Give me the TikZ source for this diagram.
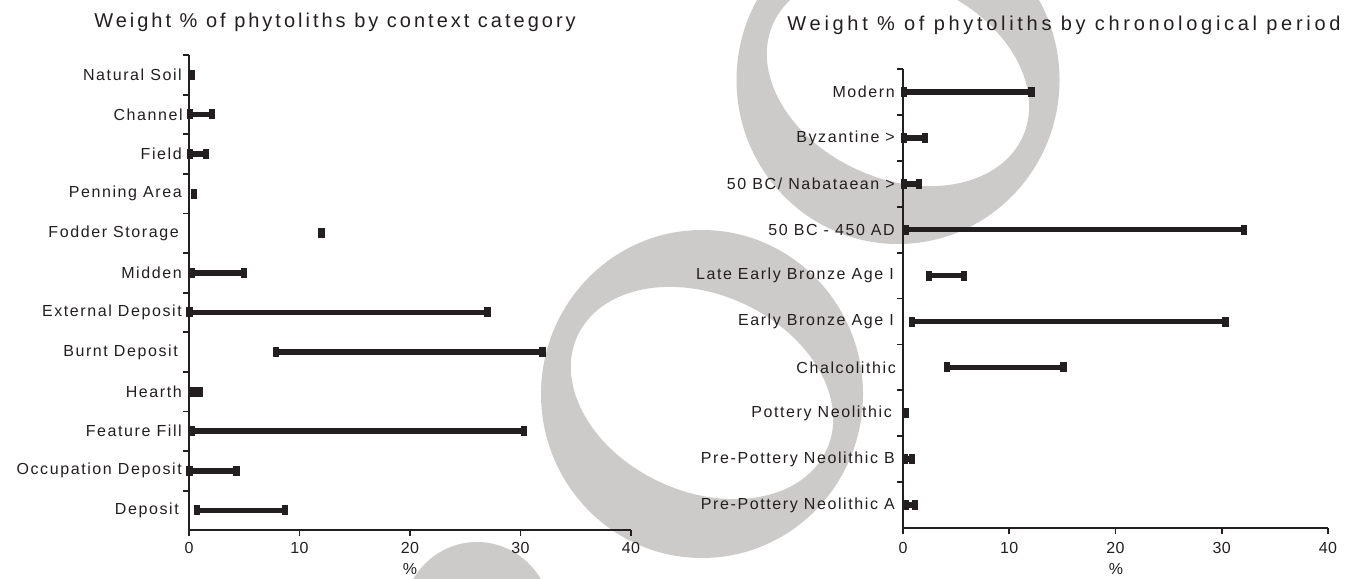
\documentclass[tikz,border=0pt]{standalone}
\usepackage{fontspec}
\setmainfont{Liberation Sans}
\newfontfamily\labfont[LetterSpace=10]{Liberation Sans}
\newfontfamily\ttlfontL[LetterSpace=15]{Liberation Sans}
\newfontfamily\ttlfontR[LetterSpace=18.5]{Liberation Sans}
\newfontfamily\numfont[LetterSpace=2]{Liberation Sans}
\definecolor{wm}{RGB}{205,202,202}
\definecolor{ink}{RGB}{35,31,32}
\tikzset{
  lbl/.style={font=\labfont\fontsize{16}{18}\selectfont, text=ink, inner sep=0pt, anchor=east},
  ttlL/.style={font=\ttlfontL\fontsize{20}{22}\selectfont, text=ink, inner sep=0pt},
  ttlR/.style={font=\ttlfontR\fontsize{20}{22}\selectfont, text=ink, inner sep=0pt},
  numstyle/.style={font=\numfont\fontsize{16}{18}\selectfont, text=ink, inner sep=0pt},
  axisline/.style={ink, line width=2.2},
  tickline/.style={ink, line width=1.8},
  rngline/.style={ink, line width=5.5},
}
% left chart: x = 189 + 11.05 v ; rows y = 74.8 + 39.6 i
\newcommand\Lmark[2]{\fill[ink] ({189+11.05*#2-3.2},{74.8+39.6*#1-5}) rectangle ++(6.4,10);}
\newcommand\Lrange[3]{\draw[rngline] ({189+11.05*#2},{74.8+39.6*#1}) -- ({189+11.05*#3},{74.8+39.6*#1});\Lmark{#1}{#2}\Lmark{#1}{#3}}
% right chart: x = 903 + 10.625 v ; rows y = 92 + 45.9 i
\newcommand\Rmark[2]{\fill[ink] ({903+10.625*#2-3.2},{92+45.9*#1-5}) rectangle ++(6.4,10);}
\newcommand\Rrange[3]{\draw[rngline] ({903+10.625*#2},{92+45.9*#1}) -- ({903+10.625*#3},{92+45.9*#1});\Rmark{#1}{#2}\Rmark{#1}{#3}}
\begin{document}
\begin{tikzpicture}[x=1pt,y=-1pt]
\useasboundingbox (0,0) rectangle (1348,578);
\fill[white] (0,0) rectangle (1348,578);
% watermark shapes
\begin{scope}
\clip (0,0) rectangle (1348,578);
\fill[wm, even odd rule] (898,80) ellipse [x radius=161.5, y radius=164]
   [rotate around={-24.5:(898,80)}] (898,80) ellipse [x radius=137, y radius=98.5];
\fill[wm, even odd rule] (702,394) ellipse [x radius=161, y radius=164]
   [rotate around={-24.5:(702,393)}] (702,393) ellipse [x radius=137, y radius=98.5];
\fill[wm] (477,620) ellipse [x radius=75, y radius=78];
\end{scope}

% ---------- left chart ----------
\node[ttlL] (ltitle) at (335,22) {Weight \% of phytoliths by context category};
\draw[axisline] (189,55) -- (189,530) -- (631,530);
\foreach \k in {0,...,11} \draw[tickline] (183,{55+39.6*\k}) -- (189,{55+39.6*\k});
\foreach \v/\nm in {0/la,10/lb,20/lc,30/ld,40/le} {
  \draw[tickline] ({189+11.05*\v},530) -- ({189+11.05*\v},536);
  \node[numstyle] (\nm) at ({189+11.05*\v},548) {\v};
}
\node[numstyle] (lpct) at (410,569) {\%};

\node[lbl] (l0) at (182,74.8) {Natural Soil};
\node[lbl] (l1) at (183,114.4) {Channel};
\node[lbl] (l2) at (182,154) {Field};
\node[lbl] (l3) at (182,193.6) {Penning Area};
\node[lbl] (l4) at (179,233.2) {Fodder Storage};
\node[lbl] (l5) at (182,272.8) {Midden};
\node[lbl] (l6) at (182,312.4) {External Deposit};
\node[lbl] (l7) at (178,352) {Burnt Deposit};
\node[lbl] (l8) at (182,391.6) {Hearth};
\node[lbl] (l9) at (182,431.2) {Feature Fill};
\node[lbl] (l10) at (182,470.8) {Occupation Deposit};
\node[lbl] (l11) at (179,510.4) {Deposit};

\Lmark{0}{0.27}
\Lrange{1}{0.1}{2.1}
\Lrange{2}{0.1}{1.55}
\Lmark{3}{0.45}
\Lmark{4}{12.0}
\Lrange{5}{0.27}{4.95}
\Lrange{6}{0.05}{27.0}
\Lrange{7}{7.9}{32.0}
\Lrange{8}{0.4}{1.0}
\Lrange{9}{0.27}{30.3}
\Lrange{10}{0.05}{4.3}
\Lrange{11}{0.73}{8.7}

% ---------- right chart ----------
\node[ttlR] (rtitle) at (1064,25) {Weight \% of phytoliths by chronological period};
\draw[axisline] (903,69) -- (903,528) -- (1328,528);
\foreach \k in {0,...,9} \draw[tickline] (897,{69+45.9*\k}) -- (903,{69+45.9*\k});
\foreach \v/\nm in {0/ra,10/rb,20/rc,30/rd,40/re} {
  \draw[tickline] ({903+10.625*\v},528) -- ({903+10.625*\v},534);
  \node[numstyle] (\nm) at ({903+10.625*\v},548) {\v};
}
\node[numstyle] (rpct) at (1116,569) {\%};

\node[lbl] (r0) at (895,92) {Modern};
\node[lbl] (r1) at (895,137.9) {Byzantine >};
\node[lbl] (r2) at (895,183.8) {50 BC/ Nabataean >};
\node[lbl] (r3) at (895,229.7) {50 BC - 450 AD};
\node[lbl] (r4) at (894,275.6) {Late Early Bronze Age I};
\node[lbl] (r5) at (894,321.5) {Early Bronze Age I};
\node[lbl] (r6) at (896,367.4) {Chalcolithic};
\node[lbl] (r7) at (892,413.3) {Pottery Neolithic};
\node[lbl] (r8) at (895,459.2) {Pre-Pottery Neolithic B};
\node[lbl] (r9) at (895,505.1) {Pre-Pottery Neolithic A};

\Rrange{0}{0.1}{12.1}
\Rrange{1}{0.1}{2.07}
\Rrange{2}{0.1}{1.5}
\Rrange{3}{0.23}{32.1}
\Rrange{4}{2.45}{5.75}
\Rrange{5}{0.85}{30.35}
\Rrange{6}{4.15}{15.1}
\Rmark{7}{0.23}
\Rrange{8}{0.2}{0.85}
\Rrange{9}{0.3}{1.15}
\end{tikzpicture}
\end{document}
